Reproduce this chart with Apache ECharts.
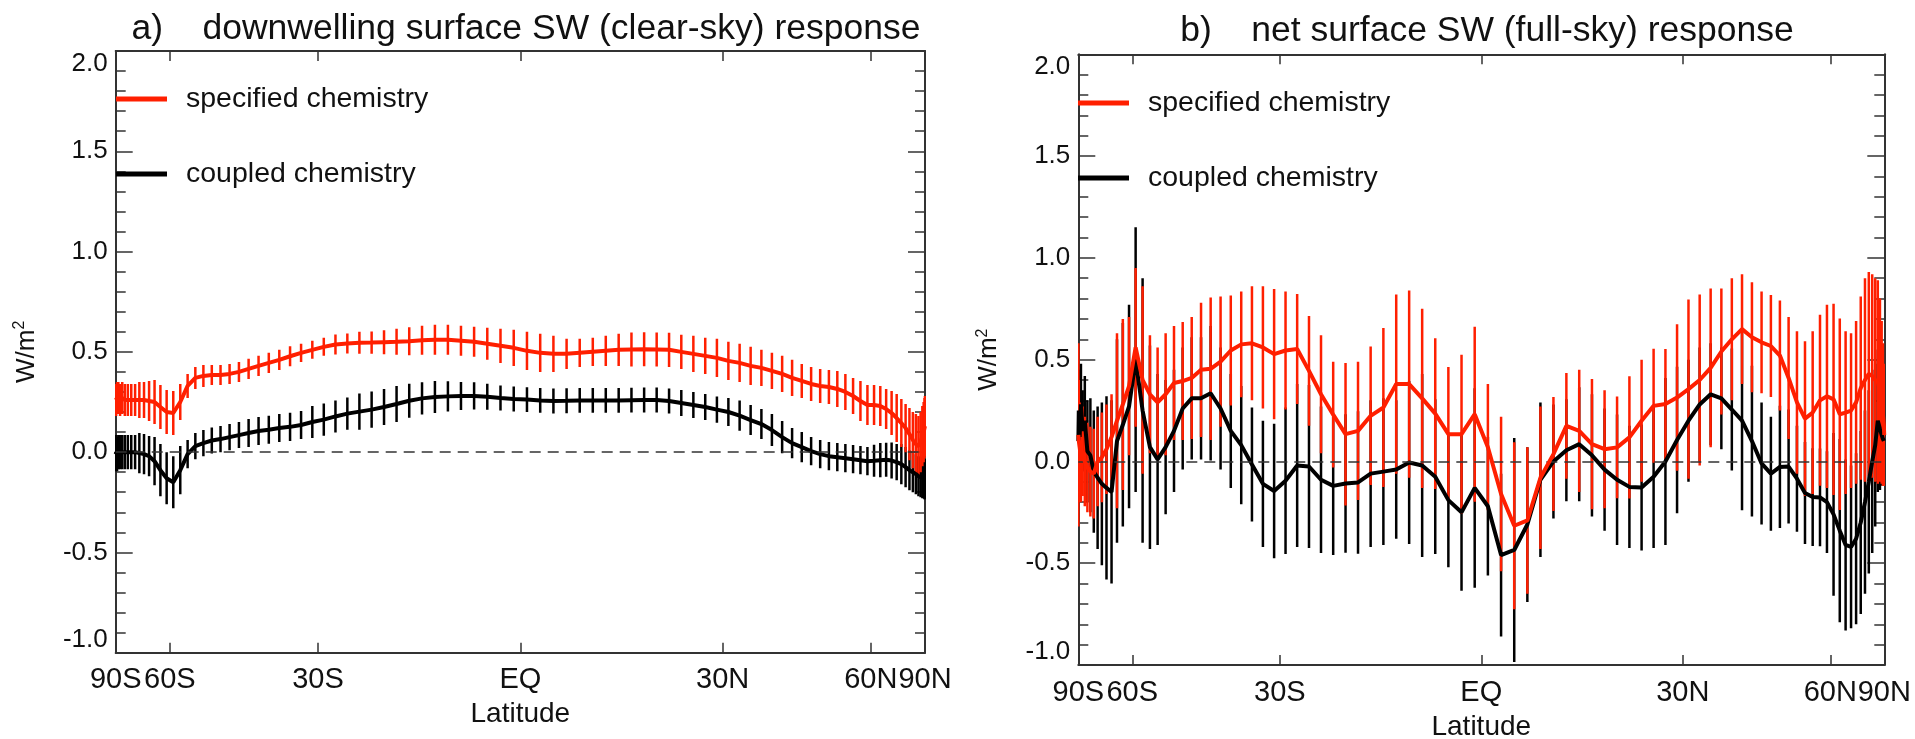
<!DOCTYPE html>
<html><head><meta charset="utf-8">
<script src="https://cdn.jsdelivr.net/npm/echarts@6/dist/echarts.min.js"></script>
<style>html,body{margin:0;padding:0;background:#fff}#c{width:1915px;height:739px}</style>
</head><body><div id="c"></div>
<script>
// Latitudes of the grid points (degrees)
const lats = [-89.0625,-87.1875,-85.3125,-83.4375,-81.5625,-79.6875,-77.8125,-75.9375,-74.0625,-72.1875,
-70.3125,-68.4375,-66.5625,-64.6875,-62.8125,-60.9375,-59.0625,-57.1875,-55.3125,-53.4375,
-51.5625,-49.6875,-47.8125,-45.9375,-44.0625,-42.1875,-40.3125,-38.4375,-36.5625,-34.6875,
-32.8125,-30.9375,-29.0625,-27.1875,-25.3125,-23.4375,-21.5625,-19.6875,-17.8125,-15.9375,
-14.0625,-12.1875,-10.3125,-8.4375,-6.5625,-4.6875,-2.8125,-0.9375,
0.9375,2.8125,4.6875,6.5625,8.4375,10.3125,12.1875,14.0625,15.9375,17.8125,
19.6875,21.5625,23.4375,25.3125,27.1875,29.0625,30.9375,32.8125,34.6875,36.5625,
38.4375,40.3125,42.1875,44.0625,45.9375,47.8125,49.6875,51.5625,53.4375,55.3125,
57.1875,59.0625,60.9375,62.8125,64.6875,66.5625,68.4375,70.3125,72.1875,74.0625,
75.9375,77.8125,79.6875,81.5625,83.4375,85.3125,87.1875,89.0625];

// Panel a: downwelling surface SW (clear-sky)
const aSpecMean = [0.26,0.26,0.27,0.27,0.26,0.27,0.26,0.26,0.26,0.26,
0.26,0.26,0.255,0.25,0.225,0.2,0.195,0.25,0.33,0.37,
0.38,0.385,0.385,0.39,0.40,0.415,0.43,0.445,0.46,0.478,
0.495,0.51,0.525,0.537,0.542,0.545,0.546,0.548,0.55,0.553,
0.558,0.56,0.56,0.555,0.55,0.54,0.53,0.52,0.505,0.495,
0.49,0.49,0.495,0.5,0.505,0.51,0.512,0.513,0.512,0.51,
0.5,0.49,0.48,0.47,0.455,0.445,0.43,0.42,0.405,0.39,
0.37,0.355,0.34,0.33,0.325,0.315,0.3,0.28,0.255,0.235,
0.235,0.23,0.215,0.195,0.17,0.145,0.12,0.09,0.06,0.04,
0.03,0.05,0.08,0.1,0.12,0.13];
const aSpecErr = [0.08,0.08,0.08,0.08,0.08,0.08,0.08,0.08,0.08,0.08,
0.09,0.09,0.1,0.11,0.11,0.11,0.11,0.09,0.06,0.055,
0.055,0.05,0.05,0.05,0.05,0.05,0.05,0.05,0.05,0.05,
0.045,0.045,0.045,0.05,0.05,0.055,0.055,0.06,0.065,0.07,
0.072,0.075,0.075,0.075,0.075,0.08,0.085,0.09,0.095,0.095,
0.09,0.075,0.07,0.07,0.075,0.08,0.085,0.085,0.085,0.085,
0.085,0.09,0.09,0.095,0.095,0.095,0.095,0.09,0.09,0.09,
0.09,0.085,0.085,0.085,0.085,0.09,0.09,0.09,0.1,0.1,
0.1,0.1,0.1,0.11,0.12,0.12,0.12,0.13,0.14,0.15,
0.15,0.15,0.15,0.15,0.15,0.15];
const aCoupMean = [-0.01,0.0,-0.01,0.0,0.0,0.0,0.0,0.0,0.0,0.0,
-0.005,-0.01,-0.02,-0.045,-0.09,-0.13,-0.15,-0.09,-0.01,0.03,
0.045,0.058,0.065,0.075,0.085,0.095,0.105,0.112,0.12,0.126,
0.135,0.15,0.162,0.178,0.192,0.202,0.212,0.225,0.24,0.256,
0.268,0.275,0.278,0.28,0.28,0.276,0.27,0.265,0.262,0.258,
0.255,0.256,0.258,0.258,0.258,0.258,0.259,0.26,0.26,0.255,
0.245,0.235,0.225,0.212,0.2,0.182,0.16,0.14,0.11,0.075,
0.045,0.025,0.005,-0.01,-0.02,-0.025,-0.03,-0.035,-0.04,-0.045,
-0.043,-0.04,-0.038,-0.042,-0.05,-0.06,-0.075,-0.09,-0.1,-0.11,
-0.12,-0.125,-0.13,-0.13,-0.135,-0.135];
const aCoupErr = [0.085,0.085,0.085,0.085,0.085,0.085,0.085,0.085,0.085,0.085,
0.1,0.1,0.1,0.12,0.13,0.13,0.13,0.12,0.07,0.065,
0.065,0.065,0.065,0.065,0.065,0.07,0.07,0.07,0.07,0.07,
0.07,0.08,0.08,0.08,0.08,0.09,0.09,0.09,0.09,0.085,
0.08,0.08,0.075,0.07,0.068,0.065,0.062,0.062,0.062,0.062,
0.062,0.062,0.062,0.062,0.062,0.062,0.062,0.062,0.062,0.062,
0.065,0.065,0.065,0.065,0.07,0.075,0.075,0.075,0.08,0.08,
0.075,0.075,0.07,0.07,0.07,0.07,0.07,0.07,0.07,0.07,
0.08,0.085,0.085,0.09,0.09,0.1,0.1,0.1,0.1,0.1,
0.1,0.1,0.1,0.1,0.1,0.1];

// Panel b: net surface SW (full-sky)
const bSpecMean = [0.13,0.1,0.07,0.02,0.05,0.0,-0.03,-0.05,-0.06,0.0,
0.02,0.06,0.12,0.2,0.28,0.37,0.56,0.4,0.33,0.29,
0.33,0.385,0.395,0.41,0.45,0.455,0.49,0.545,0.575,0.58,
0.56,0.527,0.545,0.552,0.445,0.33,0.23,0.134,0.15,0.224,
0.265,0.38,0.38,0.31,0.235,0.134,0.134,0.232,0.07,-0.16,
-0.316,-0.29,-0.08,0.036,0.175,0.15,0.085,0.06,0.069,0.118,
0.2,0.273,0.282,0.314,0.355,0.4,0.46,0.54,0.6,0.65,
0.61,0.585,0.567,0.52,0.41,0.29,0.21,0.24,0.3,0.32,
0.305,0.232,0.24,0.25,0.29,0.36,0.4,0.43,0.42,0.4,
0.39,0.35,0.29,0.23,0.18,0.13];
const bSpecErr = [0.45,0.3,0.22,0.22,0.22,0.22,0.22,0.22,0.22,0.22,
0.22,0.22,0.21,0.43,0.42,0.34,0.39,0.46,0.29,0.27,
0.3,0.28,0.29,0.3,0.33,0.35,0.32,0.27,0.26,0.28,
0.3,0.32,0.29,0.27,0.27,0.29,0.26,0.35,0.34,0.34,
0.39,0.44,0.46,0.44,0.37,0.33,0.39,0.43,0.31,0.38,
0.41,0.36,0.35,0.28,0.26,0.3,0.32,0.29,0.25,0.3,
0.3,0.28,0.27,0.36,0.44,0.42,0.39,0.31,0.3,0.27,
0.27,0.25,0.25,0.27,0.3,0.35,0.38,0.4,0.42,0.45,
0.47,0.47,0.4,0.38,0.4,0.45,0.5,0.5,0.5,0.5,
0.5,0.45,0.4,0.35,0.3,0.25];
const bCoupMean = [0.1,0.25,0.12,0.28,0.15,0.2,0.05,0.03,-0.05,-0.08,
-0.11,-0.13,-0.15,0.1,0.18,0.27,0.5,0.25,0.07,0.01,
0.07,0.15,0.26,0.31,0.31,0.335,0.26,0.15,0.08,-0.015,
-0.11,-0.145,-0.095,-0.02,-0.025,-0.09,-0.12,-0.108,-0.103,-0.06,
-0.05,-0.04,-0.005,-0.02,-0.075,-0.19,-0.25,-0.13,-0.22,-0.46,
-0.435,-0.31,-0.09,0.0,0.055,0.085,0.03,-0.04,-0.09,-0.125,
-0.128,-0.075,0.0,0.105,0.2,0.28,0.33,0.31,0.255,0.2,
0.1,-0.01,-0.06,-0.027,-0.025,-0.085,-0.155,-0.175,-0.177,-0.2,
-0.26,-0.34,-0.41,-0.42,-0.38,-0.3,-0.2,-0.1,0.0,0.08,
0.2,0.16,0.13,0.11,0.1,0.1];
const bCoupErr = [0.2,0.2,0.2,0.2,0.2,0.22,0.25,0.28,0.3,0.35,
0.4,0.45,0.45,0.5,0.5,0.5,0.65,0.65,0.5,0.42,
0.33,0.3,0.3,0.3,0.3,0.33,0.3,0.28,0.29,0.28,
0.31,0.33,0.36,0.4,0.4,0.36,0.34,0.34,0.35,0.36,
0.36,0.34,0.4,0.45,0.38,0.33,0.385,0.49,0.34,0.4,
0.55,0.38,0.38,0.28,0.25,0.28,0.3,0.3,0.32,0.3,
0.31,0.35,0.41,0.36,0.3,0.28,0.25,0.25,0.3,0.44,
0.37,0.3,0.28,0.3,0.28,0.26,0.25,0.24,0.24,0.25,
0.4,0.45,0.42,0.4,0.42,0.45,0.45,0.45,0.45,0.4,
0.35,0.3,0.25,0.2,0.2,0.2];

const tickLats = [-90,-60,-30,0,30,60,90];
const tickLabels = ['90S','60S','30S','EQ','30N','60N','90N'];
const titles = ['a)    downwelling surface SW (clear-sky) response','b)    net surface SW (full-sky) response'];
const seriesNames = ['specified chemistry','coupled chemistry'];

const RED = '#ff1f00', BLACK = '#000000', AX = '#333333', TXT = '#111111';
const FONT = 'Liberation Sans, Arial, sans-serif';
const sinx = l => Math.sin(l * Math.PI / 180);
const tickVals = tickLats.map(sinx);
function fmtLat(v) {
  let best = 0, bd = 1e9;
  tickVals.forEach((t, i) => { const d = Math.abs(t - v); if (d < bd) { bd = d; best = i; } });
  return tickLabels[best];
}
const errData = (m, e) => lats.map((l, i) => [sinx(l), m[i] - e[i], m[i] + e[i]]);
const lineData = m => lats.map((l, i) => [sinx(l), m[i]]);

function barRender(color) {
  return function (params, api) {
    const x = api.value(0);
    const p1 = api.coord([x, api.value(1)]);
    const p2 = api.coord([x, api.value(2)]);
    return { type: 'line', shape: { x1: p1[0], y1: p1[1], x2: p2[0], y2: p2[1] },
      style: { stroke: color, lineWidth: 2.5 } };
  };
}

const grids = [
  { left: 115.7, top: 51, width: 809.3, height: 601.7, outerBoundsMode: 'none', containLabel: false },
  { left: 1078.3, top: 54.3, width: 806, height: 610.7, outerBoundsMode: 'none', containLabel: false }
];

function xAxes(g) {
  const base = {
    type: 'value', gridIndex: g, min: -1, max: 1,
    axisLine: { show: true, onZero: false, lineStyle: { color: AX, width: 2 } },
    axisTick: { show: true, inside: true, length: 10, customValues: tickVals, lineStyle: { color: AX, width: 1.5 } },
    splitLine: { show: false }
  };
  return [
    Object.assign({}, base, {
      position: 'bottom',
      axisLabel: { show: true, customValues: tickVals, formatter: fmtLat, fontSize: 29, color: TXT,
        fontFamily: FONT, margin: 13, showMinLabel: true, showMaxLabel: true, hideOverlap: false },
      name: 'Latitude', nameLocation: 'middle', nameGap: 48,
      nameTextStyle: { fontSize: 28, color: TXT, fontFamily: FONT }
    }),
    Object.assign({}, base, { position: 'top', axisLabel: { show: false } })
  ];
}
function yAxes(g) {
  const base = {
    type: 'value', gridIndex: g, min: -1, max: 2, interval: 0.5,
    axisLine: { show: true, onZero: false, lineStyle: { color: AX, width: 2 } },
    axisTick: { show: true, inside: true, length: 17, lineStyle: { color: AX, width: 1.5 } },
    minorTick: { show: true, splitNumber: 5, length: 10, lineStyle: { color: AX, width: 1.5 } },
    splitLine: { show: false }, minorSplitLine: { show: false }
  };
  return [
    Object.assign({}, base, {
      position: 'left',
      axisLabel: { formatter: v => v.toFixed(1), fontSize: 26, margin: 8, color: TXT, fontFamily: FONT,
        verticalAlignMinLabel: 'bottom', verticalAlignMaxLabel: 'top' },
      name: 'W/m{s|2}', nameLocation: 'middle', nameRotate: 90, nameGap: 74,
      nameTextStyle: { fontSize: 26, color: TXT, fontFamily: FONT, lineHeight: 30,
        rich: { s: { fontSize: 16, lineHeight: 16, verticalAlign: 'top', color: TXT, fontFamily: FONT } } }
    }),
    Object.assign({}, base, { position: 'right', axisLabel: { show: false } })
  ];
}

function panelSeries(xi, yi, specM, specE, coupM, coupE) {
  return [
    { name: seriesNames[1], type: 'custom', xAxisIndex: xi, yAxisIndex: yi, renderItem: barRender(BLACK),
      data: errData(coupM, coupE), encode: { x: 0, y: [1, 2] }, clip: true, z: 2,
      markLine: { silent: true, symbol: ['none', 'none'], label: { show: false },
        lineStyle: { type: [11, 7], color: AX, width: 1.5 }, data: [{ yAxis: 0 }] } },
    { name: seriesNames[0], type: 'custom', xAxisIndex: xi, yAxisIndex: yi, renderItem: barRender(RED),
      data: errData(specM, specE), encode: { x: 0, y: [1, 2] }, clip: true, z: 3 },
    { name: seriesNames[1], type: 'line', xAxisIndex: xi, yAxisIndex: yi, data: lineData(coupM),
      showSymbol: false, symbol: 'none', lineStyle: { color: BLACK, width: 4 }, itemStyle: { color: BLACK }, z: 4 },
    { name: seriesNames[0], type: 'line', xAxisIndex: xi, yAxisIndex: yi, data: lineData(specM),
      showSymbol: false, symbol: 'none', lineStyle: { color: RED, width: 4 }, itemStyle: { color: RED }, z: 5 }
  ];
}

function legend(left, top) {
  return {
    orient: 'vertical', left: left, top: top, padding: 0, itemWidth: 51, itemHeight: 5, itemGap: 45,
    textStyle: { fontSize: 28.5, color: TXT, fontFamily: FONT, lineHeight: 30, padding: [0, 0, 0, 14] },
    data: [
      { name: seriesNames[0], icon: 'rect', itemStyle: { color: RED, borderWidth: 0 } },
      { name: seriesNames[1], icon: 'rect', itemStyle: { color: BLACK, borderWidth: 0 } }
    ],
    selectedMode: false
  };
}

const chart = echarts.init(document.getElementById('c'), null, { renderer: 'canvas' });
chart.setOption({
  animation: false,
  backgroundColor: '#ffffff',
  textStyle: { fontFamily: FONT },
  title: [
    { text: titles[0], left: 521, top: 4, textAlign: 'center',
      textStyle: { fontSize: 35.5, fontWeight: 'normal', color: TXT, fontFamily: FONT, lineHeight: 40 } },
    { text: titles[1], left: 1482, top: 6, textAlign: 'center',
      textStyle: { fontSize: 35.5, fontWeight: 'normal', color: TXT, fontFamily: FONT, lineHeight: 40 } }
  ],
  legend: [legend(116, 84), legend(1078, 88)],
  grid: grids,
  xAxis: xAxes(0).concat(xAxes(1)),
  yAxis: yAxes(0).concat(yAxes(1)),
  series: panelSeries(0, 0, aSpecMean, aSpecErr, aCoupMean, aCoupErr)
    .concat(panelSeries(2, 2, bSpecMean, bSpecErr, bCoupMean, bCoupErr))
});
</script>
</body></html>
